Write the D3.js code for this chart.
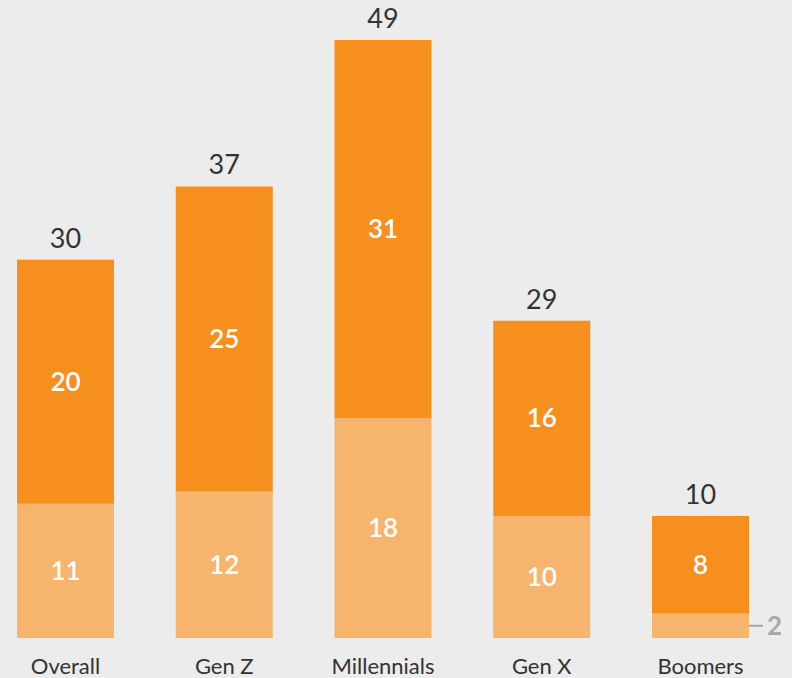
<!DOCTYPE html>
<html>
<head>
<meta charset="utf-8">
<script src="https://cdn.jsdelivr.net/npm/d3@7/dist/d3.min.js"></script>
<style>
  html, body { margin: 0; padding: 0; background: #ececec; }
  svg { display: block; }
  text { font-family: Lato, "Open Sans", sans-serif; }
</style>
</head>
<body>
<svg id="chart" width="792" height="678"></svg>
<script>
// Generational groups and their stacked shares
const categories = ["Overall", "Gen Z", "Millennials", "Gen X", "Boomers"];
const lowerValues = [11, 12, 18, 10, 2];
const upperValues = [20, 25, 31, 16, 8];
const totalLabels = ["30", "37", "49", "29", "10"];

const W = 792, H = 678;
const baseline = 638, plotTop = 40;
const lightOrange = "#f6b46c", darkOrange = "#f78f1f";

const svg = d3.select("#chart");
svg.append("rect").attr("width", W).attr("height", H).attr("fill", "#ececec");

const x = d3.scaleBand().domain(categories).range([17, 749]).paddingInner(0.389).paddingOuter(0);
const y = d3.scaleLinear().domain([0, 49]).range([baseline, plotTop]);

const rows = categories.map((c, i) => ({
  cat: c, lower: lowerValues[i], upper: upperValues[i], total: totalLabels[i]
}));

const g = svg.append("g");

// lower (light) segments
g.selectAll(".lower").data(rows).join("rect")
  .attr("x", d => x(d.cat)).attr("width", x.bandwidth())
  .attr("y", d => y(d.lower)).attr("height", d => y(0) - y(d.lower))
  .attr("fill", lightOrange);

// upper (dark) segments
g.selectAll(".upper").data(rows).join("rect")
  .attr("x", d => x(d.cat)).attr("width", x.bandwidth())
  .attr("y", d => y(d.lower + d.upper)).attr("height", d => y(d.lower) - y(d.lower + d.upper))
  .attr("fill", darkOrange);

const cx = d => x(d.cat) + x.bandwidth() / 2;

// segment value labels (lower segments large enough to hold text)
g.selectAll(".lowerLabel").data(rows.filter(d => d.lower >= 5)).join("text")
  .attr("x", cx).attr("y", d => (y(0) + y(d.lower)) / 2)
  .attr("dy", "0.35em").attr("text-anchor", "middle")
  .attr("fill", "#ffffff").attr("font-size", 26).attr("font-weight", 600)
  .text(d => d.lower);

g.selectAll(".upperLabel").data(rows).join("text")
  .attr("x", cx).attr("y", d => (y(d.lower) + y(d.lower + d.upper)) / 2)
  .attr("dy", "0.35em").attr("text-anchor", "middle")
  .attr("fill", "#ffffff").attr("font-size", 26).attr("font-weight", 600)
  .text(d => d.upper);

// small segment called out to the side
rows.filter(d => d.lower < 5).forEach(d => {
  const my = (y(0) + y(d.lower)) / 2;
  const xr = x(d.cat) + x.bandwidth();
  g.append("line").attr("x1", xr).attr("x2", xr + 14).attr("y1", my).attr("y2", my)
    .attr("stroke", "#a8a8aa").attr("stroke-width", 2);
  g.append("text").attr("x", xr + 18).attr("y", my).attr("dy", "0.35em")
    .attr("fill", "#a8a8aa").attr("font-size", 26).attr("font-weight", 700)
    .text(d.lower);
});

// totals above bars
g.selectAll(".total").data(rows).join("text")
  .attr("x", cx).attr("y", d => y(d.lower + d.upper) - 12)
  .attr("text-anchor", "middle").attr("fill", "#333333")
  .attr("font-size", 27).attr("font-weight", 400)
  .text(d => d.total);

// category axis labels
const xAxis = d3.axisBottom(x).tickSize(0).tickPadding(0);
const ax = svg.append("g").attr("transform", `translate(0,${baseline})`).call(xAxis);
ax.select(".domain").remove();
ax.selectAll("text")
  .attr("y", 36).attr("dy", 0)
  .attr("fill", "#333333").attr("font-size", 22)
  .attr("font-family", "Lato, 'Open Sans', sans-serif");
</script>
</body>
</html>
